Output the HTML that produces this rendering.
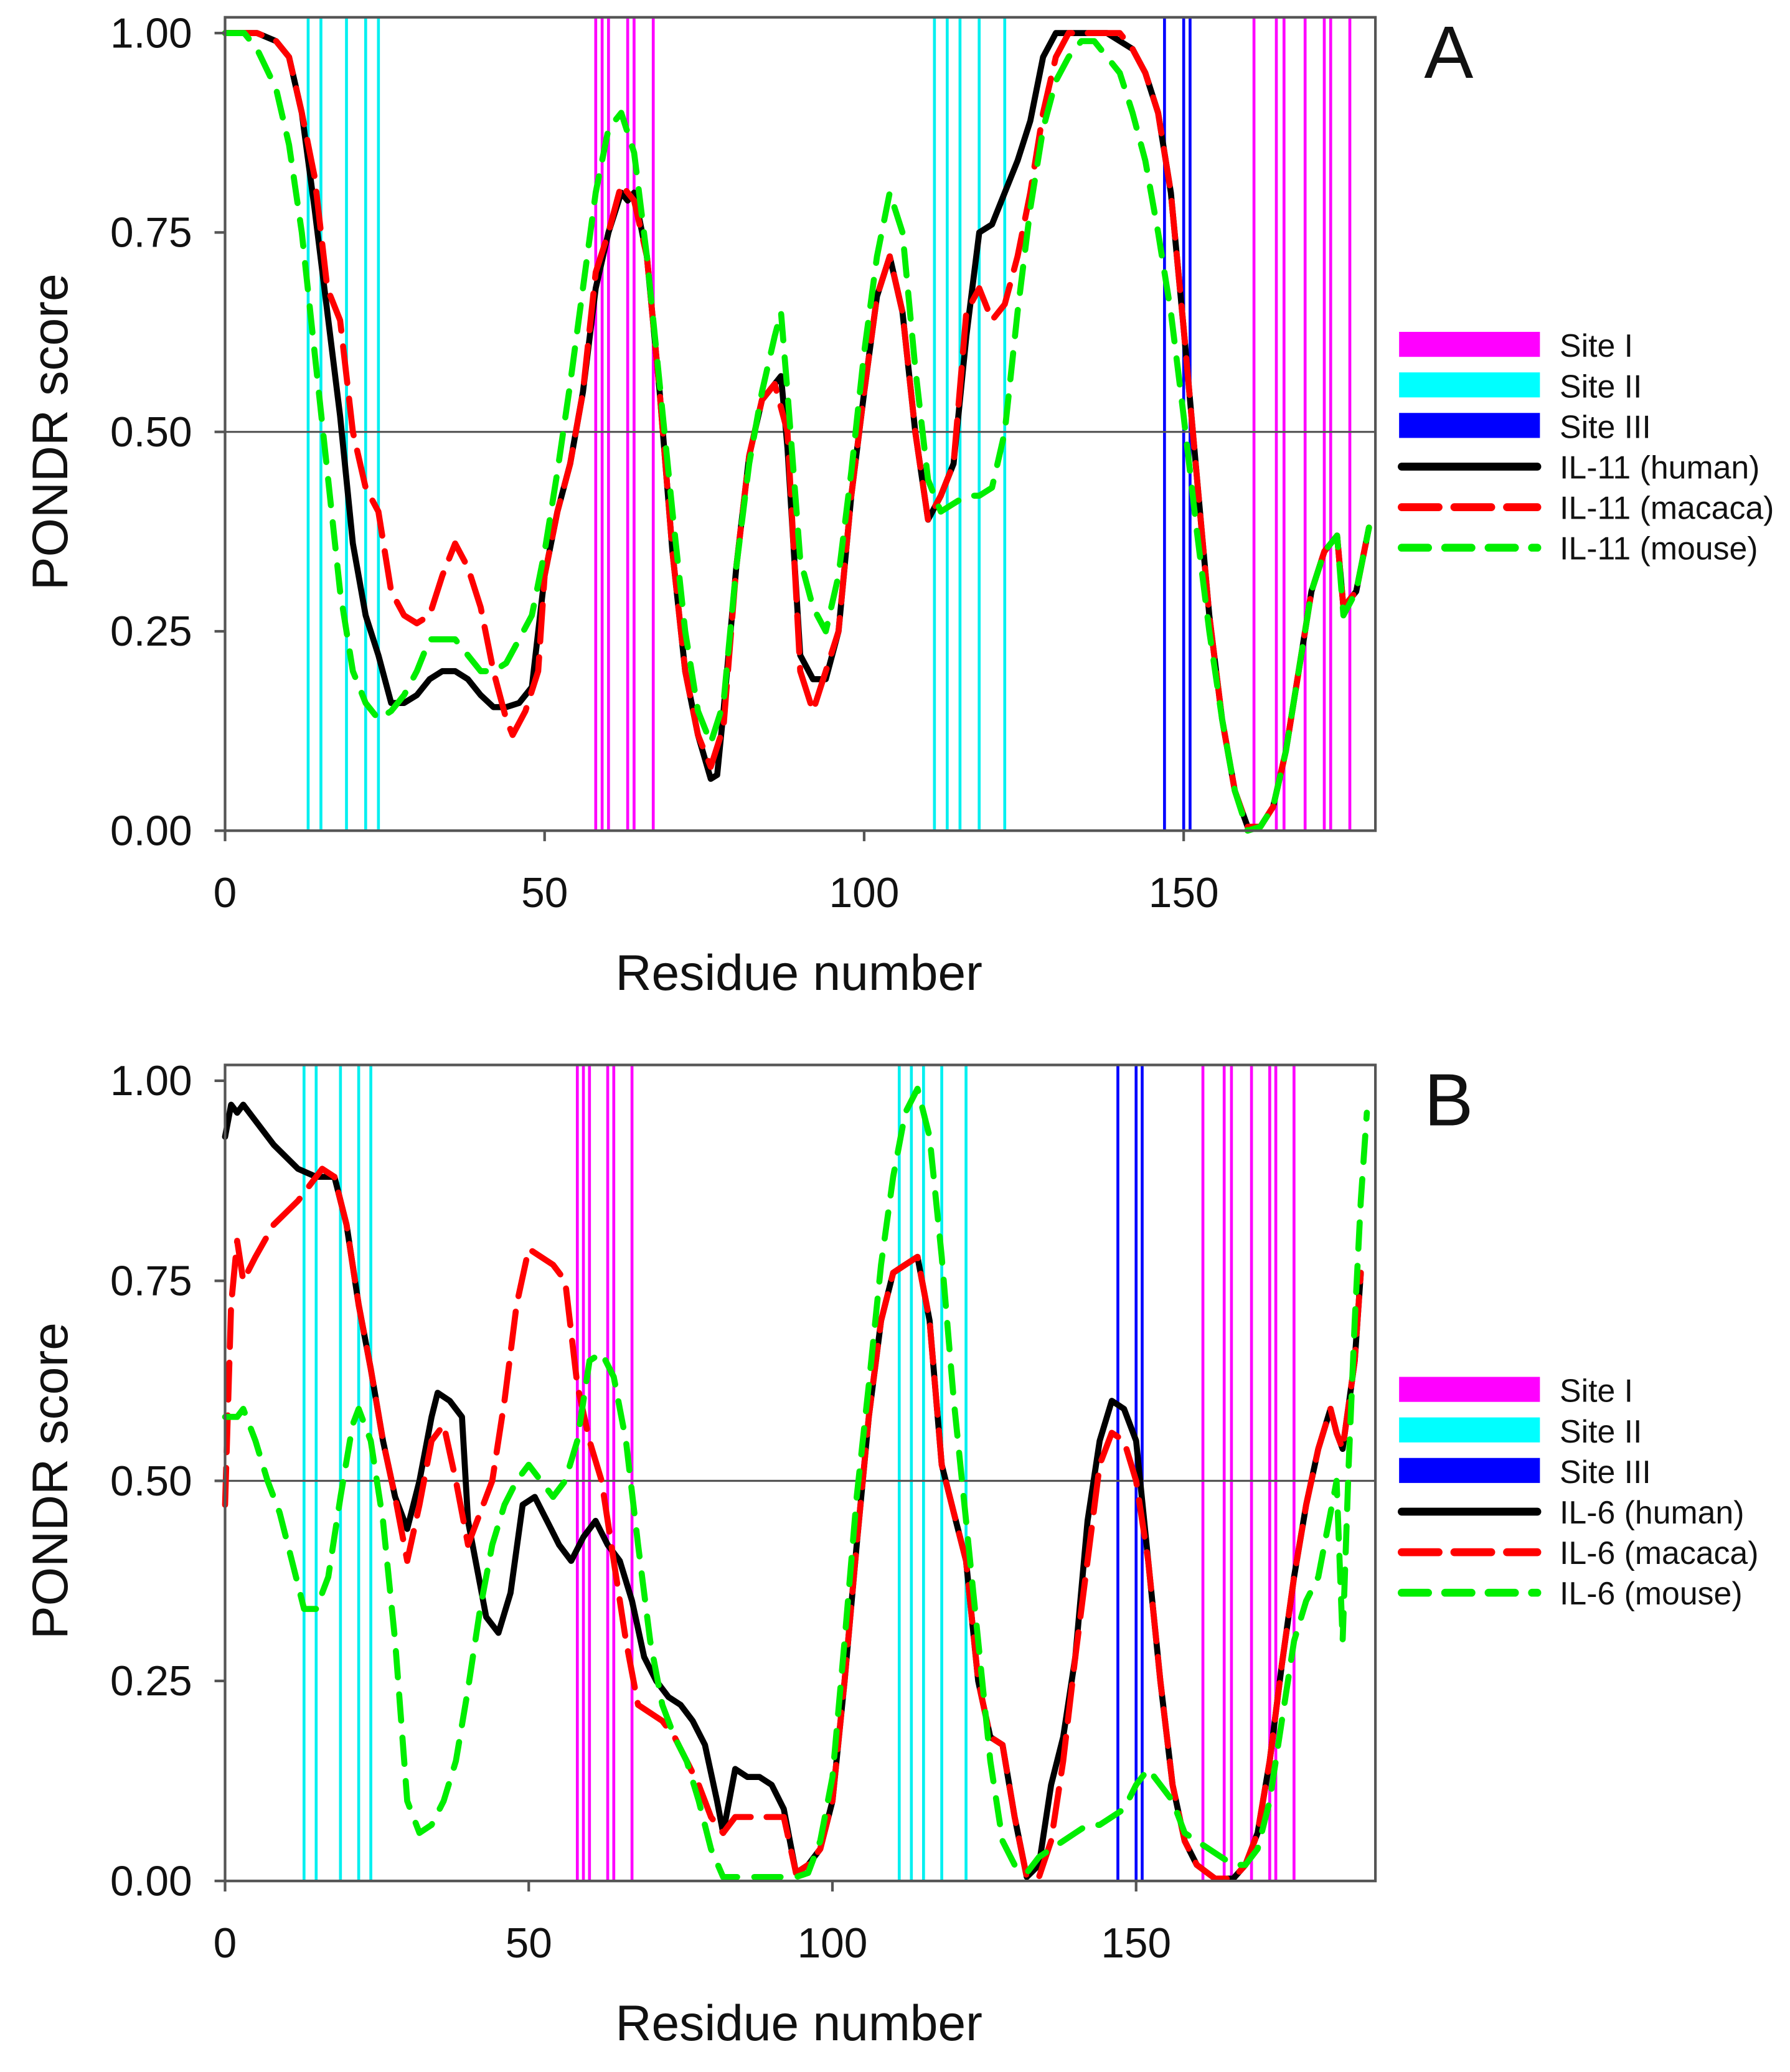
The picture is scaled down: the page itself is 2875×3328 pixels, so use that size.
<!DOCTYPE html>
<html><head><meta charset="utf-8"><style>
html,body{margin:0;padding:0;background:#fff}
svg{display:block}
text{font-family:"Liberation Sans",Arial,sans-serif;fill:#111}
</style></head><body>
<svg id="fig" width="2875" height="3328" viewBox="0 0 1360 1574" xmlns="http://www.w3.org/2000/svg"></svg>
<script>
const siteI = [58,59,60,63,64,67,161,164.5,165.7,169,172,173,176];
const siteII = [13,15,19,22,24,111,113,115,118,122];
const siteIII = [147,150,151];
const xTicks = [0,50,100,150];
const yTicks = [0,0.25,0.5,0.75,1.0];
const yTickLabels = ["0.00","0.25","0.50","0.75","1.00"];

const humanA = [[0,1],[5,1],[8,0.99],[10,0.97],[12,0.9],[14,0.78],[16,0.65],[18,0.52],[20,0.36],[22,0.27],[24,0.22],[26,0.16],[28,0.16],[30,0.17],[32,0.19],[34,0.2],[36,0.2],[38,0.19],[40,0.17],[42,0.155],[44,0.155],[46,0.16],[48,0.18],[50,0.32],[52,0.4],[54,0.46],[56,0.55],[58,0.68],[60,0.75],[62,0.8],[63,0.79],[64,0.8],[66,0.72],[68,0.55],[70,0.35],[72,0.2],[74,0.12],[76,0.065],[77,0.07],[78,0.15],[80,0.33],[82,0.47],[84,0.54],[86,0.56],[87,0.57],[88,0.48],[90,0.22],[92,0.19],[94,0.19],[96,0.25],[98,0.42],[100,0.55],[102,0.67],[104,0.72],[106,0.65],[108,0.5],[110,0.39],[112,0.42],[114,0.46],[116,0.62],[118,0.75],[120,0.76],[122,0.8],[124,0.84],[126,0.89],[128,0.97],[130,1],[138,1],[142,0.98],[144,0.95],[146,0.9],[148,0.8],[150,0.63],[152,0.45],[154,0.27],[156,0.14],[158,0.05],[160,0.005],[162,0.005],[164,0.03],[166,0.1],[168,0.2],[170,0.3],[172,0.35],[174,0.37],[175,0.28],[177,0.3],[179,0.38]];
const macacaA = [[0,1],[5,1],[8,0.99],[10,0.97],[12,0.9],[14,0.82],[16,0.68],[18,0.64],[20,0.5],[22,0.43],[24,0.4],[26,0.3],[28,0.27],[30,0.26],[32,0.27],[34,0.32],[36,0.36],[38,0.33],[40,0.28],[42,0.2],[44,0.14],[45,0.12],[47,0.15],[49,0.2],[50,0.32],[52,0.4],[54,0.46],[56,0.55],[58,0.7],[60,0.75],[62,0.81],[64,0.79],[66,0.72],[68,0.55],[70,0.35],[72,0.2],[74,0.12],[76,0.08],[78,0.13],[80,0.33],[82,0.47],[84,0.54],[86,0.56],[88,0.5],[90,0.2],[92,0.15],[94,0.2],[96,0.25],[98,0.42],[100,0.55],[102,0.67],[104,0.72],[106,0.65],[108,0.5],[110,0.39],[112,0.42],[114,0.46],[116,0.65],[118,0.68],[120,0.64],[122,0.66],[124,0.72],[126,0.8],[128,0.9],[130,0.97],[132,1],[140,1],[142,0.98],[144,0.95],[146,0.9],[148,0.8],[150,0.63],[152,0.45],[154,0.27],[156,0.14],[158,0.05],[160,0.005],[162,0.005],[164,0.03],[166,0.1],[168,0.2],[170,0.3],[172,0.35],[174,0.37],[175,0.28],[177,0.3],[179,0.38]];
const mouseA = [[0,1],[3,1],[5,0.98],[8,0.93],[10,0.86],[12,0.75],[14,0.6],[16,0.45],[18,0.3],[20,0.2],[22,0.16],[24,0.14],[26,0.15],[28,0.17],[30,0.2],[32,0.24],[34,0.24],[36,0.24],[38,0.22],[40,0.2],[42,0.2],[44,0.21],[46,0.24],[48,0.27],[50,0.35],[52,0.45],[54,0.56],[56,0.68],[58,0.8],[60,0.88],[62,0.9],[64,0.85],[66,0.72],[68,0.56],[70,0.4],[72,0.25],[74,0.15],[76,0.11],[78,0.16],[80,0.33],[82,0.46],[84,0.55],[86,0.62],[87,0.65],[88,0.55],[90,0.34],[92,0.28],[94,0.25],[96,0.32],[98,0.45],[100,0.6],[102,0.72],[104,0.8],[106,0.75],[108,0.58],[110,0.44],[112,0.4],[114,0.41],[116,0.42],[118,0.42],[120,0.43],[122,0.5],[124,0.65],[126,0.78],[128,0.88],[130,0.94],[132,0.97],[134,0.99],[136,0.99],[138,0.97],[140,0.95],[142,0.9],[144,0.84],[146,0.75],[148,0.65],[150,0.52],[152,0.38],[154,0.25],[156,0.14],[158,0.05],[160,0],[162,0.005],[164,0.03],[166,0.1],[168,0.2],[170,0.3],[172,0.35],[174,0.37],[175,0.27],[177,0.3],[179,0.38]];

const humanB = [[0,0.93],[1,0.97],[2,0.96],[3,0.97],[5,0.95],[8,0.92],[12,0.89],[15,0.88],[18,0.88],[20,0.82],[22,0.72],[24,0.64],[26,0.55],[28,0.48],[30,0.44],[32,0.5],[34,0.58],[35,0.61],[37,0.6],[39,0.58],[40,0.45],[42,0.37],[43,0.33],[45,0.31],[47,0.36],[49,0.47],[51,0.48],[53,0.45],[55,0.42],[57,0.4],[59,0.43],[61,0.45],[63,0.42],[65,0.4],[67,0.35],[69,0.28],[71,0.25],[73,0.23],[75,0.22],[77,0.2],[79,0.17],[81,0.1],[82,0.06],[84,0.14],[86,0.13],[88,0.13],[90,0.12],[92,0.09],[94,0.01],[96,0.02],[98,0.04],[100,0.1],[102,0.25],[104,0.42],[106,0.58],[108,0.7],[110,0.76],[112,0.77],[114,0.78],[116,0.7],[118,0.52],[120,0.46],[122,0.4],[124,0.25],[126,0.18],[128,0.17],[130,0.08],[132,0.005],[134,0.02],[136,0.12],[138,0.18],[140,0.28],[142,0.45],[144,0.55],[146,0.6],[148,0.59],[150,0.55],[152,0.4],[154,0.25],[156,0.12],[158,0.05],[160,0.02],[163,0.003],[166,0.003],[168,0.02],[170,0.06],[172,0.15],[174,0.27],[176,0.38],[178,0.47],[180,0.54],[182,0.59],[183,0.56],[184,0.54],[186,0.65],[187,0.76]];
const macacaB = [[0,0.47],[1,0.72],[2,0.8],[3,0.75],[5,0.78],[8,0.82],[12,0.85],[15,0.88],[16,0.89],[18,0.88],[20,0.82],[22,0.72],[24,0.64],[26,0.55],[28,0.48],[30,0.4],[32,0.47],[34,0.55],[36,0.57],[38,0.5],[40,0.42],[42,0.46],[44,0.5],[46,0.6],[48,0.72],[50,0.79],[52,0.78],[54,0.77],[56,0.75],[58,0.62],[60,0.55],[62,0.5],[64,0.4],[66,0.3],[68,0.22],[70,0.21],[72,0.2],[74,0.18],[76,0.15],[78,0.12],[80,0.08],[82,0.06],[84,0.08],[86,0.08],[88,0.08],[90,0.08],[92,0.08],[94,0.01],[96,0.02],[98,0.04],[100,0.1],[102,0.25],[104,0.42],[106,0.58],[108,0.7],[110,0.76],[112,0.77],[114,0.78],[116,0.7],[118,0.52],[120,0.46],[122,0.4],[124,0.25],[126,0.18],[128,0.17],[130,0.08],[132,0.005],[134,0.005],[136,0.05],[138,0.15],[140,0.28],[142,0.4],[144,0.52],[146,0.56],[148,0.55],[150,0.5],[152,0.4],[154,0.25],[156,0.12],[158,0.05],[160,0.02],[163,0.003],[166,0.003],[168,0.02],[170,0.06],[172,0.15],[174,0.27],[176,0.38],[178,0.47],[180,0.54],[182,0.59],[183,0.56],[184,0.54],[186,0.65],[187,0.76]];
const mouseB = [[0,0.58],[2,0.58],[3,0.59],[5,0.55],[7,0.5],[9,0.46],[11,0.4],[13,0.34],[15,0.34],[17,0.38],[19,0.48],[21,0.57],[22,0.59],[24,0.55],[26,0.45],[28,0.3],[30,0.1],[32,0.06],[34,0.07],[36,0.1],[38,0.15],[40,0.24],[42,0.34],[44,0.42],[46,0.47],[48,0.5],[50,0.52],[52,0.5],[54,0.48],[56,0.5],[58,0.55],[60,0.65],[62,0.66],[64,0.63],[66,0.55],[68,0.42],[70,0.3],[72,0.22],[74,0.18],[76,0.15],[78,0.1],[80,0.04],[82,0.005],[86,0.005],[90,0.005],[94,0.005],[96,0.01],[98,0.05],[100,0.13],[102,0.3],[104,0.48],[106,0.62],[108,0.77],[110,0.88],[112,0.96],[114,0.99],[116,0.93],[118,0.78],[120,0.6],[122,0.45],[124,0.3],[126,0.15],[128,0.05],[130,0.02],[132,0.01],[134,0.03],[136,0.04],[138,0.05],[140,0.06],[142,0.07],[144,0.07],[146,0.08],[148,0.09],[150,0.12],[152,0.14],[154,0.12],[156,0.1],[158,0.06],[160,0.05],[162,0.04],[164,0.03],[166,0.02],[168,0.02],[170,0.04],[172,0.1],[174,0.2],[176,0.3],[178,0.35],[180,0.38],[182,0.46],[183,0.5],[184,0.3],[185,0.52],[186,0.7],[187,0.85],[188,0.96]];

const NS = "http://www.w3.org/2000/svg";
const svg = document.getElementById('fig');
function mk(tag, attrs, parent, txt) {
  const e = document.createElementNS(NS, tag);
  for (const k in attrs) e.setAttribute(k, attrs[k]);
  if (txt !== undefined) e.textContent = txt;
  (parent || svg).appendChild(e);
  return e;
}

function panel(cfg) {
  const g = mk('g', {});
  
  
  const L = 171, R = 1045;
  const sx = v => L + v * (R - L) / cfg.xmax;
  const sy = v => cfg.y0 - v * (cfg.y0 - cfg.y1);
  const sites = [[siteII, '#00f0f0', 'site-ii-line'], [siteI, '#ff00ff', 'site-i-line'], [siteIII, '#0000ff', 'site-iii-line']];
  for (const [arr, col, nm] of sites) {
    for (const r of arr) {
      const l = mk('line', {x1: sx(r), x2: sx(r), y1: cfg.top, y2: cfg.y0, stroke: col, 'stroke-width': 2.2}, g);
      
      
    }
  }
  const ref = mk('line', {x1: L, x2: R, y1: sy(0.5), y2: sy(0.5), stroke: '#555', 'stroke-width': 1.5}, g);
  
  
  const series = [[cfg.human, '#000', null, 'human-line'], [cfg.macaca, '#ff0000', '28 12', 'macaca-line'], [cfg.mouse, '#00ee00', '20 13', 'mouse-line']];
  for (const [data, col, dash, nm] of series) {
    const d = data.map((p, i) => (i ? 'L' : 'M') + sx(p[0]).toFixed(1) + ',' + sy(p[1]).toFixed(1)).join('');
    const a = {d: d, fill: 'none', stroke: col, 'stroke-width': 4.6, 'stroke-linejoin': 'round', 'stroke-linecap': 'round'};
    if (dash) a['stroke-dasharray'] = dash;
    const p = mk('path', a, g);
    
    
  }
  const fr = mk('rect', {x: L, y: cfg.top, width: R - L, height: cfg.y0 - cfg.top, fill: 'none', stroke: '#555', 'stroke-width': 2}, g);
  
  
  yTicks.forEach((t, i) => {
    mk('line', {x1: L - 8, x2: L, y1: sy(t), y2: sy(t), stroke: '#555', 'stroke-width': 2}, g);
    const tx = mk('text', {x: 146, y: sy(t) + 11, 'font-size': 32, 'text-anchor': 'end'}, g, yTickLabels[i]);
    
    
  });
  xTicks.forEach(t => {
    mk('line', {x1: sx(t), x2: sx(t), y1: cfg.y0, y2: cfg.y0 + 8, stroke: '#555', 'stroke-width': 2}, g);
    const tx = mk('text', {x: sx(t), y: cfg.y0 + 58, 'font-size': 32, 'text-anchor': 'middle'}, g, String(t));
    
    
  });
  const xt = mk('text', {x: 607, y: cfg.y0 + 121, 'font-size': 38, 'text-anchor': 'middle'}, g, 'Residue number');
  
  
  const cy = sy(0.5);
  const yt = mk('text', {x: 51, y: cy, 'font-size': 38, 'text-anchor': 'middle', transform: 'rotate(-90 51 ' + cy + ')'}, g, 'PONDR score');
  
  
  const lt = mk('text', {x: 1082, y: cfg.top + 46, 'font-size': 56}, g, cfg.letter);
  
  
  const lg = mk('g', {}, g);
  
  
  const items = [['Site I', '#ff00ff', 'rect'], ['Site II', '#00ffff', 'rect'], ['Site III', '#0000ff', 'rect'],
    [cfg.name + ' (human)', '#000', null], [cfg.name + ' (macaca)', '#ff0000', '28 12'], [cfg.name + ' (mouse)', '#00ee00', '20 13']];
  items.forEach((it, i) => {
    const y = cfg.leg + i * 30.8;
    const eg = mk('g', {}, lg);
    
    
    if (it[2] === 'rect') mk('rect', {x: 1063, y: y - 10, width: 107, height: 19, fill: it[1]}, eg);
    else {
      const a = {x1: 1065, x2: 1168, y1: y, y2: y, stroke: it[1], 'stroke-width': 6, 'stroke-linecap': 'round'};
      if (it[2]) a['stroke-dasharray'] = it[2];
      mk('line', a, eg);
    }
    mk('text', {x: 1185, y: y + 9, 'font-size': 24.5}, eg, it[0]);
  });
}

panel({letter: 'A', name: 'IL-11', xmax: 180, top: 13, y0: 631, y1: 25, leg: 262, human: humanA, macaca: macacaA, mouse: mouseA});
panel({letter: 'B', name: 'IL-6', xmax: 189.4, top: 809, y0: 1429, y1: 821, leg: 1056, human: humanB, macaca: macacaB, mouse: mouseB});
</script>
</body></html>
